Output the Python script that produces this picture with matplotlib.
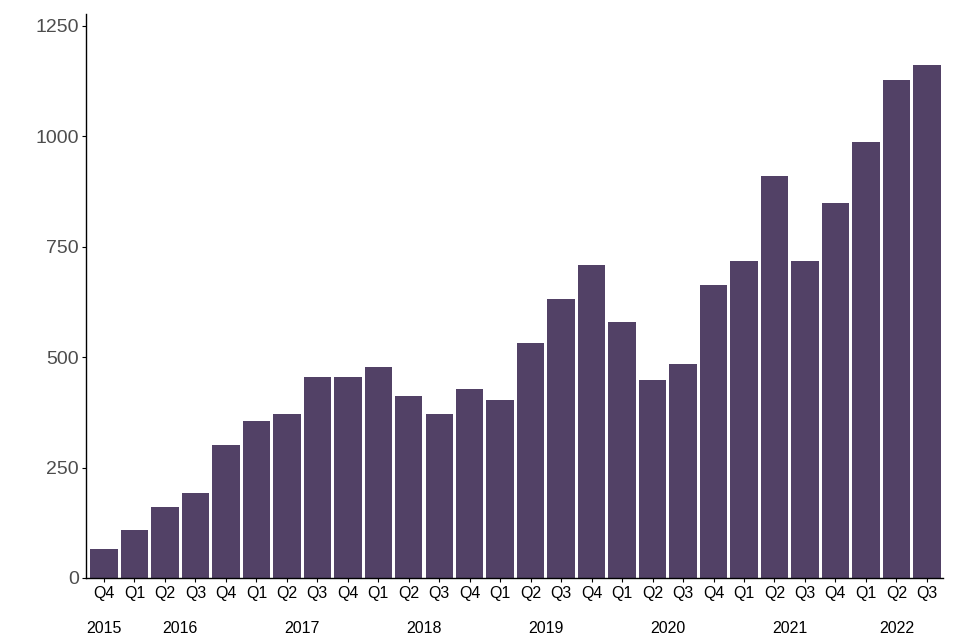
import matplotlib.pyplot as plt
import matplotlib.transforms as mtransforms
import numpy as np

plt.rcParams['font.family'] = ['Liberation Sans', 'DejaVu Sans']

quarters = ['Q4',
            'Q1', 'Q2', 'Q3', 'Q4',
            'Q1', 'Q2', 'Q3', 'Q4',
            'Q1', 'Q2', 'Q3', 'Q4',
            'Q1', 'Q2', 'Q3', 'Q4',
            'Q1', 'Q2', 'Q3', 'Q4',
            'Q1', 'Q2', 'Q3', 'Q4',
            'Q1', 'Q2', 'Q3']
years = [2015,
         2016, 2016, 2016, 2016,
         2017, 2017, 2017, 2017,
         2018, 2018, 2018, 2018,
         2019, 2019, 2019, 2019,
         2020, 2020, 2020, 2020,
         2021, 2021, 2021, 2021,
         2022, 2022, 2022]
values = [65, 109, 161, 193, 302,
          356, 372, 454, 456,
          478, 413, 372, 429,
          404, 533, 632, 709,
          580, 449, 485, 664,
          718, 911, 718, 850,
          988, 1128, 1162]

bar_color = '#524166'

fig = plt.figure(figsize=(9.6, 6.4), dpi=100)
ax = fig.add_axes([0.0896, 0.0969, 0.8927, 0.8812])

x = np.arange(len(values))
ax.bar(x, values, width=0.9, color=bar_color)

ax.set_xlim(-0.59, len(values) - 1 + 0.53)
ax.set_ylim(0, 1277)
ax.set_yticks([0, 250, 500, 750, 1000, 1250])
ax.set_xticks(x)
ax.set_xticklabels(quarters)

for side in ['top', 'right']:
    ax.spines[side].set_visible(False)
for side in ['left', 'bottom']:
    ax.spines[side].set_linewidth(1.0)
    ax.spines[side].set_color('black')

ax.tick_params(axis='y', labelsize=14, labelcolor='#4d4d4d', length=3,
               width=0.8, pad=2)
ax.tick_params(axis='x', labelsize=11.5, labelcolor='black', length=3,
               width=0.8, pad=3)

# year labels centred under each year's quarters
trans = mtransforms.blended_transform_factory(ax.transData, ax.transAxes)
for yr in sorted(set(years)):
    idx = [i for i, y in enumerate(years) if y == yr]
    ax.text(np.mean(idx), -0.09, str(yr), transform=trans,
            ha='center', va='center', fontsize=11.5, color='black')

fig.savefig('out.png', dpi=100)
